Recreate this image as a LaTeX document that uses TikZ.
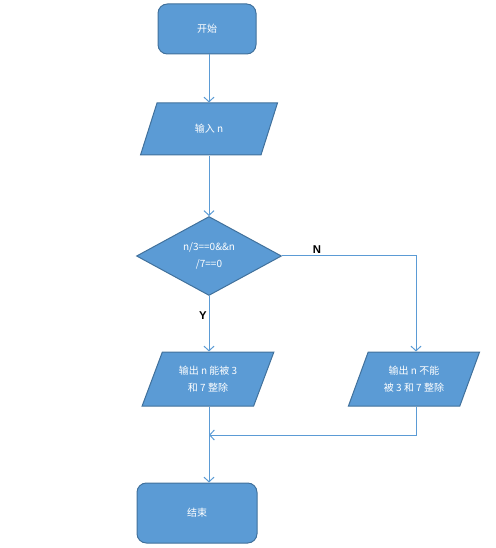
\documentclass[tikz,border=0pt]{standalone}
\usepackage{fontspec}
\newfontfamily\cjk{Noto Sans CJK SC}
\newfontfamily\labfont{Liberation Sans}
\usetikzlibrary{shapes.geometric,arrows.meta}
\definecolor{boxfill}{HTML}{5B9BD5}
\definecolor{boxedge}{HTML}{41719C}
\definecolor{linkblue}{HTML}{5B9BD5}
\tikzset{
  flowbox/.style={draw=boxedge,fill=boxfill,text=white,line width=0.75pt,align=center,
    font=\cjk\fontsize{7.5}{13}\selectfont},
  terminal/.style={flowbox,rectangle,rounded corners=7pt},
  iobox/.style={flowbox,trapezium,trapezium left angle=64,trapezium right angle=116,
    trapezium stretches=true,inner sep=0pt},
  decision/.style={flowbox,diamond,inner sep=0pt},
  link/.style={draw=linkblue,line width=0.75pt,-{Straight Barb[length=3.5pt,width=7.5pt]}},
  branch/.style={font=\labfont\bfseries\fontsize{8.5}{10}\selectfont}
}
\begin{document}
\begin{tikzpicture}[x=0.75pt,y=0.75pt,yscale=-1]
\useasboundingbox (0,0) rectangle (495,548);

%Flowchart: Terminator
\node[terminal,minimum width=73.5pt,minimum height=37.5pt] (start) at (207,29) {开始};
%Flowchart: Data
\node[iobox,minimum width=102.75pt,minimum height=39pt] (input) at (209,129) {输入 n};
%Flowchart: Decision
\node[decision,minimum width=108.75pt,minimum height=56.25pt] (test) at (209,256) {n/3==0\&\&n\\/7==0};
%Flowchart: Data
\node[iobox,minimum width=99pt,minimum height=40.5pt] (yes) at (208,379) {输出 n 能被 3\\和 7 整除};
%Flowchart: Data
\node[iobox,minimum width=98.5pt,minimum height=40.5pt] (no) at (414,379) {输出 n 不能\\被 3 和 7 整除};
%Flowchart: Terminator
\node[terminal,minimum width=90pt,minimum height=45pt] (stop) at (197,513) {结束};

%Branch labels
\node[branch] (nlab) at (317,250) {N};
\node[branch] (ylab) at (203,316) {Y};

\coordinate (merge) at (209,435);

%Straight Lines
\draw[link] (start.south -| 209,0) -- (input.north -| 209,0);
\draw[link] (input.south -| 209,0) -- (test.north);
\draw[link] (test.south) -- (yes.north -| 209,0);
\draw[link] (test.east) -| (no.north -| 416,0);
\draw[link] (no.south -| 416,0) |- (merge);
\draw[link] (yes.south -| 209,0) -- (stop.north -| 209,0);

\end{tikzpicture}
\end{document}
